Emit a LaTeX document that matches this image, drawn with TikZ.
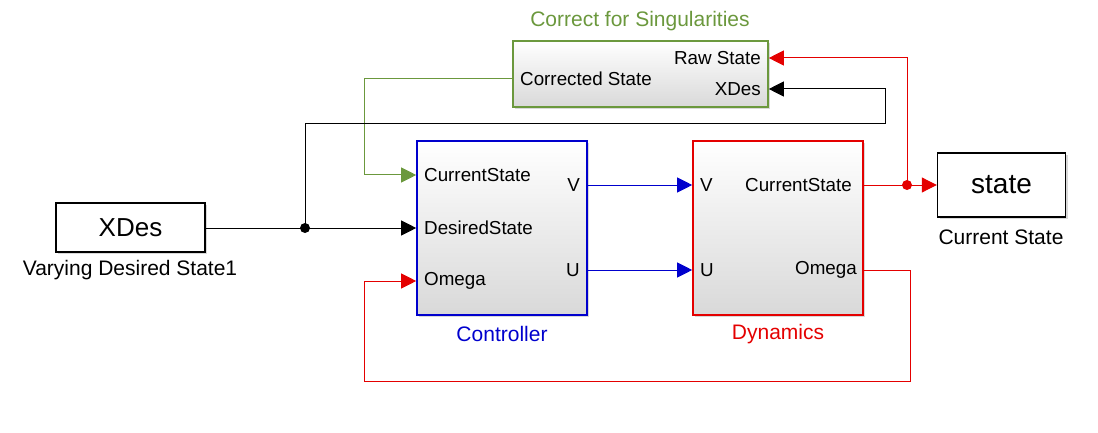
\documentclass[tikz,border=0pt]{standalone}
\usepackage{fontspec}
\setmainfont{Liberation Sans}
\usetikzlibrary{arrows.meta,shadows}
\definecolor{simgreen}{RGB}{107,152,61}
\definecolor{simblue}{RGB}{0,0,205}
\definecolor{simred}{RGB}{228,0,0}

\tikzset{
  block/.style={draw, line width=1.6pt, top color=white, bottom color=black!15,
                drop shadow={shadow xshift=2pt, shadow yshift=-2pt, opacity=0.3},
                inner sep=0pt},
  port/.style={font=\fontsize{18.8}{20}\selectfont, inner sep=0pt},
  blocklabel/.style={font=\fontsize{21}{22}\selectfont, inner sep=0pt},
  wire/.style={line width=1pt},
  tip/.style={-{Triangle[length=15pt, width=15pt]}}
}

\begin{document}
\begin{tikzpicture}[x=1pt, y=-1pt]
  \useasboundingbox (0,0) rectangle (1098,433);
  % Blocks
  \node[block, draw=simgreen, minimum width=255pt, minimum height=66pt]
    (corr) at (640.5,74) {};
  \node[block, draw=simblue, minimum width=170pt, minimum height=174pt]
    (ctrl) at (502,228) {};
  \node[block, draw=simred, minimum width=170pt, minimum height=174pt]
    (dyn) at (778,228) {};
  \node[draw, line width=1.4pt, fill=white, minimum width=149pt, minimum height=49pt,
        drop shadow={shadow xshift=2pt, shadow yshift=-2pt, opacity=0.3},
        font=\fontsize{26}{28}\selectfont]
    (xdes) at (130.5,227.5) {XDes};
  \node[draw, line width=1.4pt, fill=white, minimum width=128pt, minimum height=64pt,
        drop shadow={shadow xshift=2pt, shadow yshift=-2pt, opacity=0.3},
        font=\fontsize{28}{30}\selectfont]
    (state) at (1001.5,185) {state};
  % Block names
  \node[blocklabel, text=simgreen] (corrname) at (640,21) {Correct for Singularities};
  \node[blocklabel, text=simblue] (ctrlname) at (502,334) {Controller};
  \node[blocklabel, text=simred] (dynname) at (778,334) {Dynamics};
  \node[blocklabel] (xdesname) at (130,270) {Varying Desired State1};
  \node[blocklabel] (statename) at (1001,237) {Current State};
  % Ports
  \node[port, anchor=east] (pRaw) at (761,58) {Raw State};
  \node[port, anchor=east] (pX) at (761,89) {XDes};
  \node[port, anchor=west] (pCorr) at (520,79) {Corrected State};
  \foreach \lbl/\nm/\y in {CurrentState/cCur/175, DesiredState/cDes/228, Omega/cOm/281}
    \node[port, anchor=west] (\nm) at (424,\y) {\lbl};
  \node[port, anchor=east] (cV) at (580,185) {V};
  \node[port, anchor=east] (cU) at (580,270) {U};
  \node[port, anchor=west] (dV) at (700,185) {V};
  \node[port, anchor=west] (dU) at (700,270) {U};
  \node[port, anchor=east] (dCur) at (852,185) {CurrentState};
  \node[port, anchor=east] (dOm) at (857,270) {Omega};
  % Junctions
  \coordinate (jx) at (305,228);
  \coordinate (jr) at (907,185);
  % Green feedback
  \draw[wire, simgreen, tip] (corr.west |- pCorr) -| (364,175) -- (ctrl.west |- cCur);
  % Desired state
  \draw[wire, tip] (xdes.east |- jx) -- (ctrl.west |- cDes);
  \draw[wire, tip] (jx) -- (305,124) -- (885,124) |- (corr.east |- pX);
  \fill (jx) circle (5pt);
  % Controller to dynamics
  \draw[wire, simblue, tip] (ctrl.east |- cV) -- (dyn.west |- dV);
  \draw[wire, simblue, tip] (ctrl.east |- cU) -- (dyn.west |- dU);
  % State output
  \draw[wire, simred, tip] (dyn.east |- dCur) -- (state.west);
  \draw[wire, simred, tip] (jr) |- (corr.east |- pRaw);
  \fill[simred] (jr) circle (5pt);
  % Omega loop
  \draw[wire, simred, tip] (dyn.east |- dOm) -| (910,381) -| (364,281) -- (ctrl.west |- cOm);
\end{tikzpicture}
\end{document}
